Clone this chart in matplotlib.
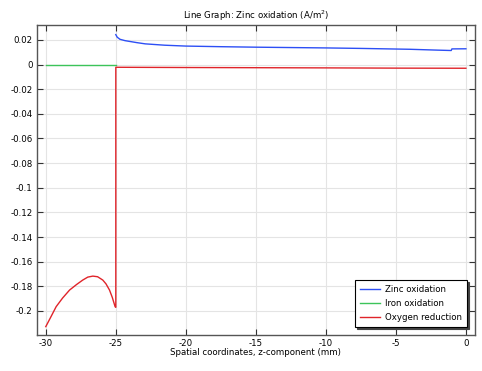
import matplotlib
matplotlib.use("Agg")
import matplotlib.pyplot as plt

# Zinc oxidation (blue), z in mm
zinc_z = [-25.0, -24.9, -24.7, -24.34, -23.5, -22.9, -21.5, -20.0, -17.5, -15.0,
          -12.5, -10.0, -7.5, -6.0, -4.0, -2.0, -1.05, -1.0, 0.0]
zinc_i = [0.0243, 0.0222, 0.0205, 0.0194, 0.0178, 0.0168, 0.0157, 0.0150, 0.0145, 0.0141,
          0.0138, 0.0135, 0.0131, 0.0128, 0.0124, 0.0117, 0.0114, 0.0127, 0.0128]

# Iron oxidation (green)
iron_z = [-30.0, -25.0]
iron_i = [0.0, 0.0]

# Oxygen reduction (red)
oxy_z = [-30.0, -29.6, -29.26, -28.8, -28.3, -27.8, -27.36, -27.0, -26.64, -26.3,
         -25.93, -25.7, -25.45, -25.25, -25.05, -25.0, -25.0, -20.0, -10.0, -5.0, 0.0]
oxy_i = [-0.2127, -0.2040, -0.1965, -0.1895, -0.1830, -0.1785, -0.1749, -0.1725, -0.1717, -0.1722,
         -0.1749, -0.1780, -0.1830, -0.1890, -0.1965, -0.1970, -0.0022, -0.0024, -0.0027, -0.0029, -0.0030]

plt.rcParams['font.family'] = ['DejaVu Sans']
fs = 6.2
fig = plt.figure(figsize=(4.82, 3.71), dpi=100)
ax = fig.add_axes([0.0761, 0.097, 0.9094, 0.8356])

ax.plot(zinc_z, zinc_i, color='#2d4ff5', lw=1.0, label='Zinc oxidation')
ax.plot(iron_z, iron_i, color='#3cc45a', lw=1.0, label='Iron oxidation')
ax.plot(oxy_z, oxy_i, color='#e0242a', lw=1.0, label='Oxygen reduction')

ax.set_xlim(-30.65, 0.65)
ax.set_ylim(-0.2195, 0.0321)
ax.set_xticks([-30, -25, -20, -15, -10, -5, 0])
ax.set_xticklabels(['-30', '-25', '-20', '-15', '-10', '-5', '0'])
yt = [0.02, 0, -0.02, -0.04, -0.06, -0.08, -0.1, -0.12, -0.14, -0.16, -0.18, -0.2]
ax.set_yticks(yt)
ax.set_yticklabels(['0.02', '0', '-0.02', '-0.04', '-0.06', '-0.08', '-0.1',
                    '-0.12', '-0.14', '-0.16', '-0.18', '-0.2'])
ax.grid(True, color='#e4e4e4', lw=0.8)
ax.set_axisbelow(True)
ax.tick_params(direction='in', top=True, right=True, length=4, width=0.8,
               labelsize=fs, pad=3, colors='#333333', labelcolor='black')
for s in ax.spines.values():
    s.set_color('#555555')
    s.set_linewidth(1.0)

ax.set_title('Line Graph: Zinc oxidation (A/m$^2$)', fontsize=fs, pad=4)
ax.set_xlabel('Spatial coordinates, z-component (mm)', fontsize=fs, labelpad=0)

leg = ax.legend(loc='lower right', fontsize=fs, fancybox=False, frameon=True,
                edgecolor='black',
                shadow={'color': '#444444', 'alpha': 1, 'ox': 1.5, 'oy': -1.5},
                borderaxespad=0.9, handlelength=2.3, labelspacing=0.6,
                borderpad=0.6, handletextpad=0.6)
leg.get_frame().set_linewidth(0.8)

fig.savefig('out.png', dpi=100)
